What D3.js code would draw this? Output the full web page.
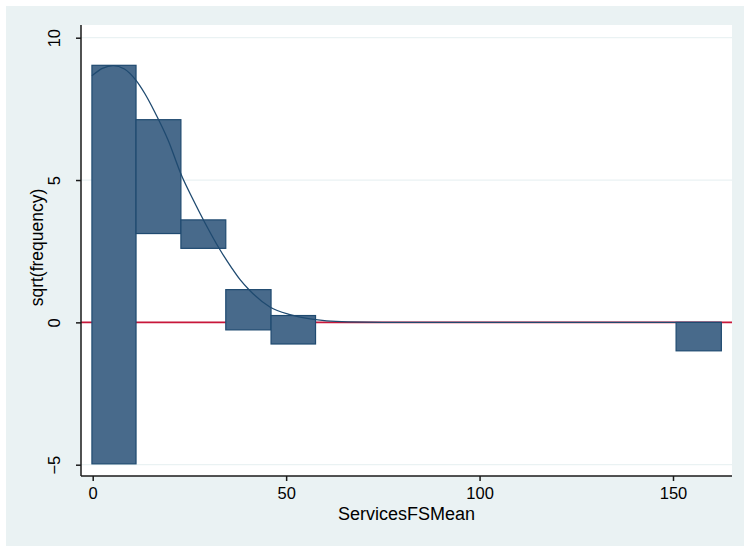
<!DOCTYPE html>
<html>
<head>
<meta charset="utf-8">
<script src="https://cdn.jsdelivr.net/npm/d3@7/dist/d3.min.js"></script>
<style>
  html, body { margin: 0; padding: 0; background: #ffffff; }
  svg { display: block; font-family: "Liberation Sans", Arial, sans-serif; }
</style>
</head>
<body>
<svg id="chart" width="744" height="546"></svg>
<script>
// Hanging rootogram of ServicesFSMean: bars hang from sqrt(expected) and
// extend down by sqrt(observed count).
const binLo = [-0.2, 11.2, 22.8, 34.4, 46.1, 150.8];
const binHi = [11.2, 22.8, 34.4, 46.1, 57.6, 162.5];
const sqrtExpected = [9.03, 7.12, 3.6, 1.15, 0.24, 0.0];
const observed = [196, 16, 1, 2, 1, 1];

// Fitted normal curve on the sqrt(frequency) scale
const curveX = [-0.2, 2.5, 5.3, 8.2, 11.2, 13.5, 16, 19.5, 23, 26, 29, 32.9, 36, 38.1, 40.6, 45.8, 51, 56.2, 60.5, 66, 75, 162.5];
const curveY = [8.66, 8.92, 9.02, 8.9, 8.5, 8.03, 7.4, 6.4, 5.15, 4.3, 3.5, 2.55, 1.9, 1.5, 1.12, 0.54, 0.27, 0.12, 0.05, 0.015, 0, 0];

const xTicks = [0, 50, 100, 150];
const yTicks = [-5, 0, 5, 10];
const xTitle = "ServicesFSMean";
const yTitle = "sqrt(frequency)";

const svg = d3.select("#chart");

// Plot region bounds
const plot = { left: 81, right: 732, top: 25, bottom: 476 };

const x = d3.scaleLinear().domain([0, 150]).range([92.7, 673]);
const y = d3.scaleLinear().domain([-5, 10]).range([464.7, 37.7]);

// Outer graph background
svg.append("rect")
  .attr("x", 6).attr("y", 6)
  .attr("width", 738).attr("height", 540)
  .attr("fill", "#eaf2f3");

// Plot region
svg.append("rect")
  .attr("x", plot.left).attr("y", plot.top)
  .attr("width", plot.right - plot.left).attr("height", plot.bottom - plot.top)
  .attr("fill", "#ffffff");

// Horizontal grid lines
svg.append("g")
  .selectAll("line")
  .data(yTicks)
  .join("line")
  .attr("x1", plot.left).attr("x2", plot.right)
  .attr("y1", d => y(d)).attr("y2", d => y(d))
  .attr("stroke", "#eaf2f3")
  .attr("stroke-width", 1.2);

// Zero reference line
svg.append("line")
  .attr("x1", plot.left).attr("x2", plot.right)
  .attr("y1", y(0)).attr("y2", y(0))
  .attr("stroke", "#c8173a")
  .attr("stroke-width", 1.6);

// Hanging bars
const bars = binLo.map((lo, i) => ({
  lo, hi: binHi[i],
  top: sqrtExpected[i],
  bottom: sqrtExpected[i] - Math.sqrt(observed[i])
}));

svg.append("g")
  .selectAll("rect")
  .data(bars)
  .join("rect")
  .attr("x", d => x(d.lo))
  .attr("width", d => x(d.hi) - x(d.lo))
  .attr("y", d => y(d.top))
  .attr("height", d => y(d.bottom) - y(d.top))
  .attr("fill", "#486a8b")
  .attr("stroke", "#1f4a70")
  .attr("stroke-width", 1.2);

// Fitted curve
const line = d3.line()
  .x(d => x(d[0]))
  .y(d => y(d[1]))
  .curve(d3.curveMonotoneX);

svg.append("path")
  .datum(curveX.map((v, i) => [v, curveY[i]]))
  .attr("d", line)
  .attr("fill", "none")
  .attr("stroke", "#1f4a70")
  .attr("stroke-width", 1.3);

// Axes
const xAxis = d3.axisBottom(x).tickValues(xTicks).tickSize(5).tickPadding(6).tickFormat(d3.format("d"));
const yAxis = d3.axisLeft(y).tickValues(yTicks).tickSize(5).tickPadding(4).tickFormat(d3.format("d"));

const gx = svg.append("g")
  .attr("transform", `translate(0,${plot.bottom})`)
  .call(xAxis);
gx.select(".domain").remove();
gx.append("line")
  .attr("x1", plot.left).attr("x2", plot.right)
  .attr("y1", 0).attr("y2", 0)
  .attr("stroke", "#1a1a1a").attr("stroke-width", 1.5);
gx.selectAll(".tick line").attr("stroke", "#1a1a1a").attr("stroke-width", 1.5);
gx.selectAll(".tick text")
  .attr("fill", "#000")
  .attr("font-size", 16.5)
  .attr("font-family", "Liberation Sans, Arial, sans-serif");

const gy = svg.append("g")
  .attr("transform", `translate(${plot.left},0)`)
  .call(yAxis);
gy.select(".domain").remove();
gy.append("line")
  .attr("x1", 0).attr("x2", 0)
  .attr("y1", plot.top).attr("y2", plot.bottom)
  .attr("stroke", "#1a1a1a").attr("stroke-width", 1.5);
gy.selectAll(".tick line").attr("stroke", "#1a1a1a").attr("stroke-width", 1.5);
gy.selectAll(".tick text")
  .attr("fill", "#000")
  .attr("font-size", 16.5)
  .attr("font-family", "Liberation Sans, Arial, sans-serif")
  .attr("x", null).attr("dy", null)
  .attr("text-anchor", "middle")
  .attr("transform", "translate(-21,0) rotate(-90)");

// Axis titles
svg.append("text")
  .attr("x", (plot.left + plot.right) / 2)
  .attr("y", 520)
  .attr("text-anchor", "middle")
  .attr("font-size", 18)
  .attr("fill", "#000")
  .text(xTitle);

svg.append("text")
  .attr("transform", `translate(43,${(plot.top + plot.bottom) / 2 - 3}) rotate(-90)`)
  .attr("text-anchor", "middle")
  .attr("font-size", 17.5)
  .attr("fill", "#000")
  .text(yTitle);
</script>
</body>
</html>
